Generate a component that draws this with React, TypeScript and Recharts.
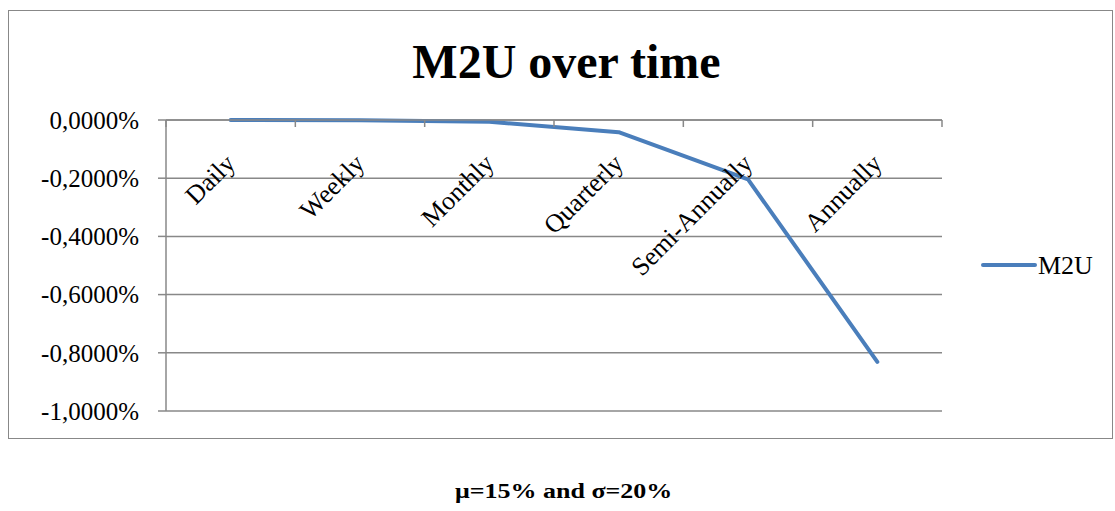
import { LineChart, Line, XAxis, YAxis, CartesianGrid, Legend } from "recharts";

const periods = ["Daily", "Weekly", "Monthly", "Quarterly", "Semi-Annually", "Annually"];
const m2uValues = [0, -0.001, -0.006, -0.042, -0.204, -0.831];
const yTicks = [0, -0.2, -0.4, -0.6, -0.8, -1];

const data = periods.map((period, i) => ({ period, M2U: m2uValues[i] }));

const serif = '"Liberation Serif", "Times New Roman", serif';
const grey = "#888888";
const blue = "#4a7ebb";

const formatPct = (v: number) => `${v.toFixed(4).replace(".", ",")}%`;

// category labels sit under the zero line, rotated, tick marks on the band edges
function PeriodTick(props: any) {
  const { x, y, payload } = props;
  const half = payload.offset ?? 0;
  const tx = x + 6;
  const ty = y + 45;
  return (
    <g>
      {payload.index === 0 && (
        <line x1={x - half} x2={x - half} y1={y} y2={y + 7} stroke={grey} strokeWidth={1.5} />
      )}
      <line x1={x + half} x2={x + half} y1={y} y2={y + 7} stroke={grey} strokeWidth={1.5} />
      <text
        x={tx}
        y={ty}
        textAnchor="end"
        transform={`rotate(-45, ${tx}, ${ty})`}
        fontFamily={serif}
        fontSize={26}
        fill="#000"
      >
        {payload.value}
      </text>
    </g>
  );
}

function LegendBox() {
  return (
    <svg width={130} height={32}>
      <line x1={2} x2={54} y1={13} y2={13} stroke={blue} strokeWidth={4} strokeLinecap="round" />
      <text x={57} y={22} fontFamily={serif} fontSize={26} fill="#000">
        M2U
      </text>
    </svg>
  );
}

export default function App() {
  return (
    <div style={{ position: "absolute", left: 0, top: 0, width: 1115, height: 511, background: "#fff" }}>
      <div
        style={{
          position: "absolute",
          left: 8,
          top: 10,
          width: 1105,
          height: 429,
          border: `1.5px solid ${grey}`,
          boxSizing: "border-box",
        }}
      />
      <div
        style={{
          position: "absolute",
          left: 0,
          top: 38,
          width: 1133,
          textAlign: "center",
          fontFamily: serif,
          fontWeight: "bold",
          fontSize: 48,
          lineHeight: "48px",
        }}
      >
        M2U over time
      </div>
      <LineChart
        width={1115}
        height={511}
        data={data}
        margin={{ top: 119, right: 173, bottom: 100, left: 0 }}
        style={{ position: "absolute", left: 0, top: 0 }}
      >
        <CartesianGrid vertical={false} stroke={grey} strokeWidth={1.5} />
        <XAxis
          dataKey="period"
          orientation="top"
          scale="band"
          height={1}
          tickSize={0}
          tickMargin={0}
          tickLine={false}
          axisLine={{ stroke: grey, strokeWidth: 1.5 }}
          tick={<PeriodTick />}
          interval={0}
        />
        <YAxis
          domain={[-1, 0]}
          ticks={yTicks}
          width={166}
          tickFormatter={formatPct}
          tickSize={8}
          tickMargin={19}
          axisLine={{ stroke: grey, strokeWidth: 1.5 }}
          tickLine={{ stroke: grey, strokeWidth: 1.5 }}
          tick={{ fill: "#000", fontSize: 25, fontFamily: serif }}
        />
        <Legend
          layout="vertical"
          align="center"
          verticalAlign="middle"
          wrapperStyle={{ left: 981, top: 252, width: 130 }}
          content={<LegendBox />}
        />
        <Line
          type="linear"
          dataKey="M2U"
          stroke={blue}
          strokeWidth={4}
          strokeLinecap="round"
          strokeLinejoin="round"
          dot={false}
          activeDot={false}
          isAnimationActive={false}
        />
      </LineChart>
      <div
        style={{
          position: "absolute",
          left: 0,
          top: 481,
          width: 1128,
          textAlign: "center",
          fontFamily: serif,
          fontWeight: "bold",
          fontSize: 20,
          lineHeight: "20px",
        }}
      >
        <span style={{ display: "inline-block", transform: "scaleX(1.3)" }}>μ=15% and σ=20%</span>
      </div>
    </div>
  );
}
